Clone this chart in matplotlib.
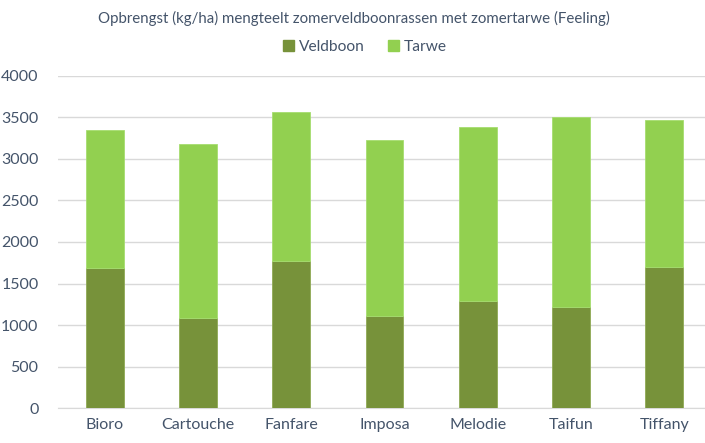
import numpy as np
import matplotlib.pyplot as plt
from matplotlib.patches import Patch

rassen = ['Bioro', 'Cartouche', 'Fanfare', 'Imposa', 'Melodie', 'Taifun', 'Tiffany']
veldboon = [1684, 1086, 1768, 1114, 1290, 1215, 1696]
tarwe = [1666, 2093, 1792, 2113, 2089, 2285, 1775]

txt = '#44546A'
c_veld = '#77923A'
c_tarwe = '#92D050'

plt.rcParams['font.family'] = ['Lato', 'DejaVu Sans']

fig = plt.figure(figsize=(7.05, 4.43), dpi=100)
ax = fig.add_axes([58 / 705, 34.7 / 443, 653 / 705, 332.6 / 443])

x = np.arange(len(rassen))
ax.bar(x, veldboon, width=0.405, color=c_veld, edgecolor='#8FAA55', linewidth=0.6, zorder=3)
ax.bar(x, tarwe, width=0.405, bottom=veldboon, color=c_tarwe, edgecolor='#A6DD70', linewidth=0.6, zorder=3)

ax.set_xlim(-0.5, len(rassen) - 0.5)
ax.set_ylim(0, 4000)
ax.set_yticks(np.arange(0, 4001, 500))
ax.set_xticks(x)
ax.set_xticklabels(rassen)
ax.yaxis.grid(True, color='#D9D9D9', linewidth=1, zorder=0)
for s in ['top', 'right', 'left']:
    ax.spines[s].set_visible(False)
ax.spines['bottom'].set_color('#D9D9D9')
ax.tick_params(axis='both', length=0, colors=txt, labelsize=11.5)
ax.tick_params(axis='y', pad=14)
ax.tick_params(axis='x', pad=7)

fig.text(0.502, 1 - 18 / 443, 'Opbrengst (kg/ha) mengteelt zomerveldboonrassen met zomertarwe (Feeling)',
         ha='center', va='center', color=txt, fontsize=10.8)
handles = [Patch(color=c_veld, label='Veldboon'), Patch(color=c_tarwe, label='Tarwe')]
fig.legend(handles=handles, loc='center', bbox_to_anchor=(365 / 705, 1 - 47 / 443), ncol=2, frameon=False,
           fontsize=11.2, labelcolor=txt, handlelength=0.7, handleheight=0.7, handletextpad=0.3,
           columnspacing=1.5)

fig.savefig('out.png', dpi=100)
